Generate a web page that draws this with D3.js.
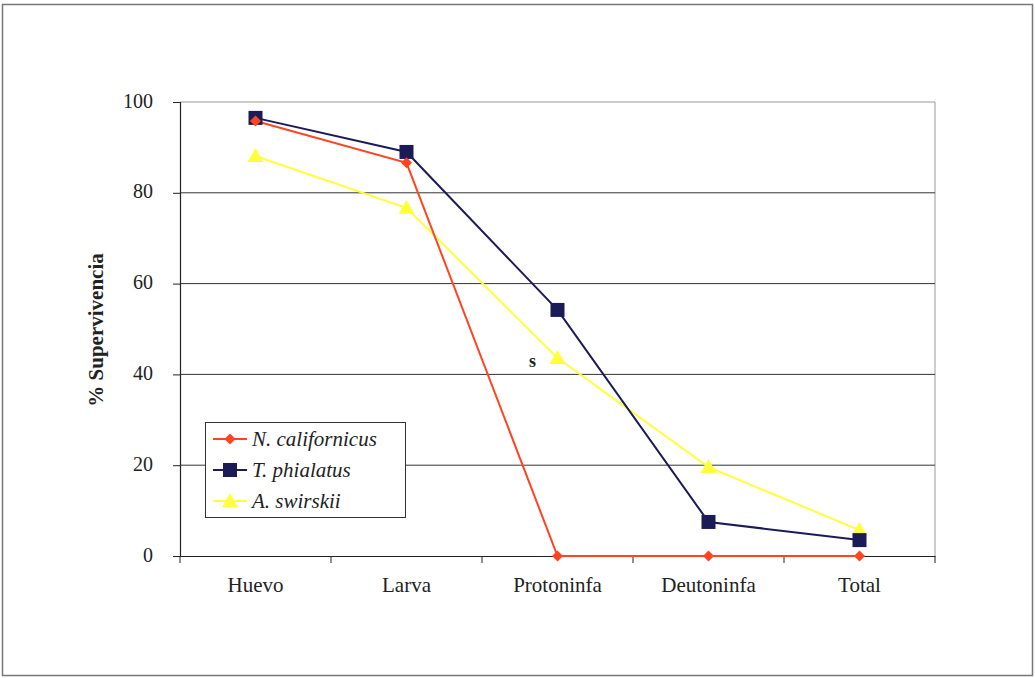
<!DOCTYPE html>
<html><head><meta charset="utf-8">
<script src="https://cdn.jsdelivr.net/npm/d3@7"></script>
<style>body{margin:0;background:#fff}svg{display:block}
svg text{font-family:"Liberation Serif","Times New Roman","DejaVu Serif",serif;}
</style>
</head><body>
<svg id="c" width="1035" height="678"></svg>
<script>
const categories = ["Huevo", "Larva", "Protoninfa", "Deutoninfa", "Total"];
const seriesNames = ["N. californicus", "T. phialatus", "A. swirskii"];
const nCalifornicus = [95.8, 86.6, 0, 0, 0];
const tPhialatus = [96.5, 89.0, 54.2, 7.5, 3.5];
const aSwirskii = [88.1, 76.7, 43.6, 19.6, 5.7];
const yTicks = [0, 20, 40, 60, 80, 100];
const yLabel = "% Supervivencia";
const annotation = {text: "s", category: "Protoninfa", value: 43.6};

const colors = ["#ff4421", "#1b1b58", "#ffff3c"];
const shapes = ["diamond", "square", "triangle"];
const seriesData = [nCalifornicus, tPhialatus, aSwirskii];

const svg = d3.select("#c");

svg.append("rect").attr("x", 2.5).attr("y", 4.5).attr("width", 1030).attr("height", 671)
  .attr("fill", "#fff").attr("stroke", "#777").attr("stroke-width", 1.5);

const L = 180, R = 935, T = 102, B = 556;
const x = d3.scaleBand().domain(categories).range([L, R]).paddingInner(0).paddingOuter(0);
const y = d3.scaleLinear().domain([0, 100]).range([B, T]);
const cx = c => x(c) + x.bandwidth() / 2;

svg.append("path").attr("d", `M${L},${T}H${R}V${B}`).attr("fill", "none")
  .attr("stroke", "#999").attr("stroke-width", 1);

svg.append("g").selectAll("line").data(yTicks.filter(d => d > 0 && d < 100)).join("line")
  .attr("x1", L).attr("x2", R).attr("y1", d => y(d)).attr("y2", d => y(d))
  .attr("stroke", "#333").attr("stroke-width", 1);

const yAxis = svg.append("g").attr("transform", `translate(${L},0)`)
  .call(d3.axisLeft(y).tickValues(yTicks).tickSize(7).tickPadding(20));
yAxis.attr("font-family", null);
yAxis.select(".domain").attr("stroke", "#222").attr("stroke-width", 1.2);
yAxis.selectAll(".tick line").attr("stroke", "#222");
yAxis.selectAll("text").attr("font-size", 20).attr("fill", "#222").attr("dy", "0.25em");

const xAxis = svg.append("g").attr("transform", `translate(0,${B})`)
  .call(d3.axisBottom(x).tickSize(0).tickPadding(21));
xAxis.attr("font-family", null);
xAxis.select(".domain").attr("stroke", "#222").attr("stroke-width", 1.2);
xAxis.selectAll("text").attr("font-size", 21).attr("fill", "#222");
const bounds = categories.map(c => x(c)).concat([R]);
svg.append("g").selectAll("line").data(bounds).join("line")
  .attr("x1", d => d).attr("x2", d => d).attr("y1", B).attr("y2", B + 7)
  .attr("stroke", "#222").attr("stroke-width", 1);

svg.append("text").attr("transform", `translate(103,${(T + B) / 2 + 1}) rotate(-90)`)
  .attr("text-anchor", "middle").attr("font-weight", "bold")
  .attr("font-size", 21).attr("fill", "#222").text(yLabel);

function marker(g, shape, color, px, py) {
  if (shape === "diamond") {
    g.append("path").attr("d", `M${px},${py - 5.5}L${px + 5.5},${py}L${px},${py + 5.5}L${px - 5.5},${py}Z`).attr("fill", color);
  } else if (shape === "square") {
    g.append("rect").attr("x", px - 7).attr("y", py - 7).attr("width", 14).attr("height", 14).attr("fill", color);
  } else {
    g.append("path").attr("d", `M${px},${py - 8}L${px + 8},${py + 6}L${px - 8},${py + 6}Z`).attr("fill", color);
  }
}

const line = d3.line().x((d, i) => cx(categories[i])).y(d => y(d));
const order = [2, 1, 0];
order.forEach(si => {
  svg.append("path").datum(seriesData[si]).attr("d", line).attr("fill", "none")
    .attr("stroke", colors[si]).attr("stroke-width", 2);
});
order.forEach(si => {
  const g = svg.append("g");
  seriesData[si].forEach((v, i) => marker(g, shapes[si], colors[si], cx(categories[i]), y(v)));
});

svg.append("text").attr("x", cx(annotation.category) - 25).attr("y", y(annotation.value) + 9)
  .attr("text-anchor", "middle").attr("font-weight", "bold")
  .attr("font-size", 18).attr("fill", "#222").text(annotation.text);

const lg = svg.append("g");
lg.append("rect").attr("x", 205.5).attr("y", 422.5).attr("width", 200).attr("height", 95)
  .attr("fill", "#fff").attr("stroke", "#333").attr("stroke-width", 1);
seriesNames.forEach((n, i) => {
  const ly = 439 + i * 31;
  lg.append("line").attr("x1", 213).attr("x2", 247).attr("y1", ly).attr("y2", ly)
    .attr("stroke", colors[i]).attr("stroke-width", 2);
  marker(lg, shapes[i], colors[i], 230, ly);
  lg.append("text").attr("x", 252).attr("y", ly + 7)
    .attr("font-style", "italic").attr("font-size", 21).attr("fill", "#222").text(n);
});
</script>
</body></html>
